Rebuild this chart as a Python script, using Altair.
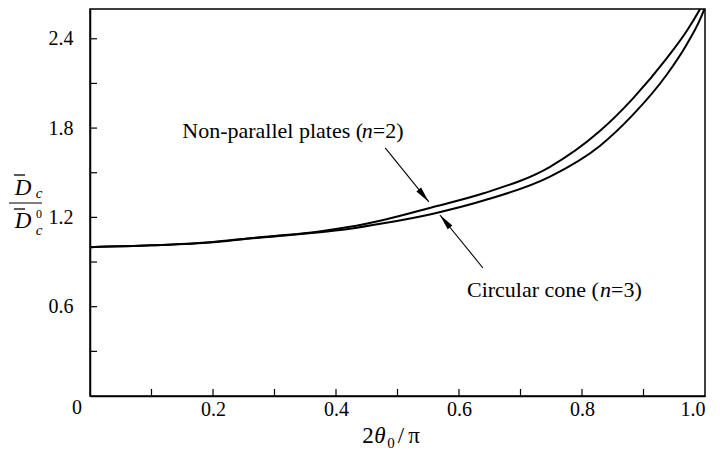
import altair as alt
import pandas as pd

# ---- data ----
x_vals = [0.0, 0.1, 0.2, 0.26, 0.3, 0.37, 0.42, 0.477, 0.558, 0.64, 0.748, 0.829, 0.883, 0.938, 0.970, 0.992, 1.0]
plates_n2 = [1.0, 1.012, 1.035, 1.06, 1.075, 1.104, 1.135, 1.183, 1.27, 1.362, 1.54, 1.78, 2.0, 2.27, 2.45, 2.60, 2.66]
cone_n3 = [1.0, 1.012, 1.033, 1.058, 1.072, 1.098, 1.122, 1.16, 1.225, 1.313, 1.474, 1.68, 1.89, 2.16, 2.36, 2.53, 2.61]

x_ticks = [0.1, 0.2, 0.3, 0.4, 0.5, 0.6, 0.7, 0.8, 0.9]
y_ticks = [0.3, 0.6, 0.9, 1.2, 1.5, 1.8, 2.1, 2.4]
x_labels = [0.2, 0.4, 0.6, 0.8, 1.0]
y_labels = [0.6, 1.2, 1.8, 2.4]

ann_text = ["Non-parallel plates (", "Circular cone ("]
ann_n = ["n", "n"]
ann_rest = ["=2)", "=3)"]
ann_x = [0.150, 0.613]
ann_y = [1.734, 0.665]

arrow_x0 = [0.480, 0.639]
arrow_y0 = [1.667, 0.860]
arrow_x1 = [0.551, 0.569]
arrow_y1 = [1.304, 1.216]
arrow_angle = [140.8, 320.9]

FONT = "Liberation Serif, Times New Roman, serif"
W, H = 615, 387
AS = 22  # annotation font size

curves = pd.DataFrame({
    "x": x_vals * 2,
    "y": plates_n2 + cone_n3,
    "series": ["Non-parallel plates (n=2)"] * len(x_vals) + ["Circular cone (n=3)"] * len(x_vals),
})

xs = alt.Scale(domain=[0, 1.0], nice=False, zero=False)
ys = alt.Scale(domain=[0, 2.6], nice=False, zero=False)

lines = alt.Chart(curves).mark_line(color="black", strokeWidth=2, clip=True, interpolate="monotone").encode(
    x=alt.X("x:Q", scale=xs, title=None,
            axis=alt.Axis(values=x_labels, format=".1f", ticks=False, grid=False,
                          labelFont=FONT, labelFontSize=20, labelColor="black", labelPadding=3,
                          domainColor="black", domainWidth=1.5)),
    y=alt.Y("y:Q", scale=ys, title=None,
            axis=alt.Axis(values=y_labels, format=".1f", ticks=False, grid=False,
                          labelFont=FONT, labelFontSize=20, labelColor="black", labelPadding=17,
                          domainColor="black", domainWidth=1.5)),
    detail="series:N",
)

xt = alt.Chart(pd.DataFrame({"t": x_ticks})).mark_rule(color="black", strokeWidth=1.2).encode(
    x=alt.X("t:Q", scale=xs, title=None), y=alt.value(H), y2=alt.value(H - 7))
yt = alt.Chart(pd.DataFrame({"t": y_ticks})).mark_rule(color="black", strokeWidth=1.2).encode(
    y=alt.Y("t:Q", scale=ys, title=None), x=alt.value(0), x2=alt.value(7))

origin = alt.Chart(pd.DataFrame({"x": [0.0], "y": [0.0], "t": ["0"]})).mark_text(
    font=FONT, fontSize=20, color="black", dx=-13, dy=12).encode(
    x=alt.X("x:Q", scale=xs, title=None), y=alt.Y("y:Q", scale=ys, title=None), text="t:N")

ann = pd.DataFrame({"x": ann_x, "y": ann_y, "a": ann_text, "n": ann_n, "r": ann_rest})


def ann_part(rows, field, dx, style="normal"):
    return alt.Chart(ann.iloc[rows]).mark_text(
        font=FONT, fontSize=AS, fontStyle=style, color="black", align="left", baseline="alphabetic", dx=dx
    ).encode(x=alt.X("x:Q", scale=xs, title=None), y=alt.Y("y:Q", scale=ys, title=None), text=f"{field}:N")


ann_layers = [
    ann_part([0, 1], "a", 0),
    ann_part([0], "n", 179.5, "italic"),
    ann_part([0], "r", 190.5),
    ann_part([1], "n", 133.0, "italic"),
    ann_part([1], "r", 144.0),
]

arr = pd.DataFrame({"x0": arrow_x0, "y0": arrow_y0, "x1": arrow_x1, "y1": arrow_y1, "ang": arrow_angle})
shafts = alt.Chart(arr).mark_rule(color="black", strokeWidth=1.1).encode(
    x=alt.X("x0:Q", scale=xs, title=None), y=alt.Y("y0:Q", scale=ys, title=None), x2="x1:Q", y2="y1:Q")
heads = alt.Chart(arr).mark_point(shape="M0,0 L-0.38,2 L0.38,2 Z", filled=True, color="black",
                                  size=256, opacity=1).encode(
    x=alt.X("x1:Q", scale=xs, title=None), y=alt.Y("y1:Q", scale=ys, title=None),
    angle=alt.Angle("ang:Q", scale=None))


# free text pieces (axis titles), positioned in pixels relative to the plot area
def txt(s, x, y, size, style="italic"):
    return alt.Chart(pd.DataFrame({"s": [s]})).mark_text(
        font=FONT, fontSize=size, fontStyle=style, color="black", align="center", baseline="alphabetic"
    ).encode(text="s:N", x=alt.value(x), y=alt.value(y))


def bar(x1, x2, y, w=1.2):
    return alt.Chart(pd.DataFrame({"a": [0]})).mark_rule(color="black", strokeWidth=w).encode(
        x=alt.value(x1), x2=alt.value(x2), y=alt.value(y))


ytitle = [
    txt("D", -67, 186, 23),
    bar(-76, -65, 166, 1.3),
    txt("c", -51, 189, 15),
    bar(-81, -48, 194, 1.2),
    txt("D", -67, 219, 23),
    bar(-76, -65, 200, 1.3),
    txt("0", -51, 209, 12, "normal"),
    txt("c", -51, 226, 15),
]

xtitle = [
    txt("2", 278, 434, 23, "normal"),
    txt("θ", 290, 434, 23, "italic"),
    txt("0", 301, 439, 15, "normal"),
    txt("/", 311, 434, 23, "normal"),
    txt("π", 324, 434, 23, "normal"),
]

chart = alt.layer(lines, xt, yt, origin, *ann_layers, shafts, heads, *ytitle, *xtitle).properties(
    width=W, height=H,
    autosize=alt.AutoSizeParams(type="none"),
    padding={"left": 82, "top": 1, "right": 7, "bottom": 55},
    background="white",
).configure_view(stroke="black", strokeWidth=1.5).configure_axis(
    labelFont=FONT, labelFontSize=20, labelColor="black")

chart.save("out.html", embed_options={"renderer": "svg", "actions": False})
